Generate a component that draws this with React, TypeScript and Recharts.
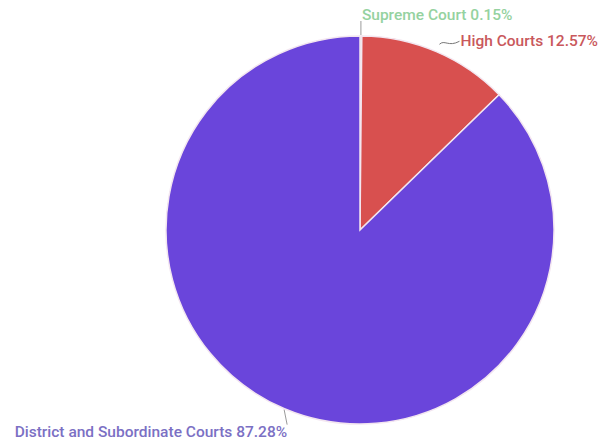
import { Cell, Pie, PieChart } from 'recharts';

const courts = ['Supreme Court', 'High Courts', 'District and Subordinate Courts'];
const shares = [0.15, 12.57, 87.28];
const fills = ['#8ed09a', '#d8504f', '#6a45db'];
const textColors = ['#95d2a0', '#c9585c', '#7b70c4'];

const data = courts.map((name, i) => ({ name, value: shares[i] }));

const RAD = Math.PI / 180;

const renderLabel = (props: any) => {
  const { cx, cy, midAngle, outerRadius, index, name, value } = props;
  const sin = Math.sin(-midAngle * RAD);
  const cos = Math.cos(-midAngle * RAD);
  const sx = cx + (outerRadius + 1) * cos;
  const sy = cy + (outerRadius + 1) * sin;
  const text = `${name} ${value.toFixed(2)}%`;
  const common = { fontFamily: 'Roboto, sans-serif', fontSize: 15.5, fontWeight: 500, fill: textColors[index] };

  if (index === 0) {
    // straight up from the top edge
    return (
      <g>
        <path d={`M${sx},${sy} L${sx},${sy - 14}`} stroke="#9a9a9a" fill="none" />
        <text x={sx + 1} y={sy - 14} {...common} textAnchor="start" dy={-1}>
          {text}
        </text>
      </g>
    );
  }
  if (index === 1) {
    const x0 = cx + (outerRadius + 8) * cos;
    const y0 = cy + (outerRadius + 8) * sin;
    return (
      <g>
        <path
          d={`M${x0},${y0} C${x0 + 5},${y0 - 5} ${x0 + 9},${y0 + 3} ${x0 + 20},${y0 - 3}`}
          stroke="#777"
          fill="none"
        />
        <text x={x0 + 21} y={y0 - 3} {...common} textAnchor="start" dominantBaseline="central">
          {text}
        </text>
      </g>
    );
  }
  const x1 = sx + 3;
  const y1 = sy + 15;
  return (
    <g>
      <path d={`M${sx},${sy} L${x1},${y1}`} stroke="#9a9a9a" fill="none" />
      <text x={x1} y={y1} {...common} textAnchor="end" dy={12}>
        {text}
      </text>
    </g>
  );
};

export default function App() {
  return (
    <div style={{ position: 'absolute', left: 0, top: 0, width: 600, height: 443, background: '#fff' }}>
      <PieChart width={600} height={443} margin={{ top: 0, right: 0, bottom: 0, left: 0 }}>
        <Pie
          data={data}
          dataKey="value"
          nameKey="name"
          cx={360}
          cy={230}
          outerRadius={194}
          startAngle={90}
          endAngle={-270}
          stroke="#f3e6f0"
          strokeWidth={1.5}
          label={renderLabel}
          labelLine={false}
          isAnimationActive={false}
        >
          {data.map((d, i) => (
            <Cell key={d.name} fill={fills[i]} />
          ))}
        </Pie>
      </PieChart>
    </div>
  );
}
